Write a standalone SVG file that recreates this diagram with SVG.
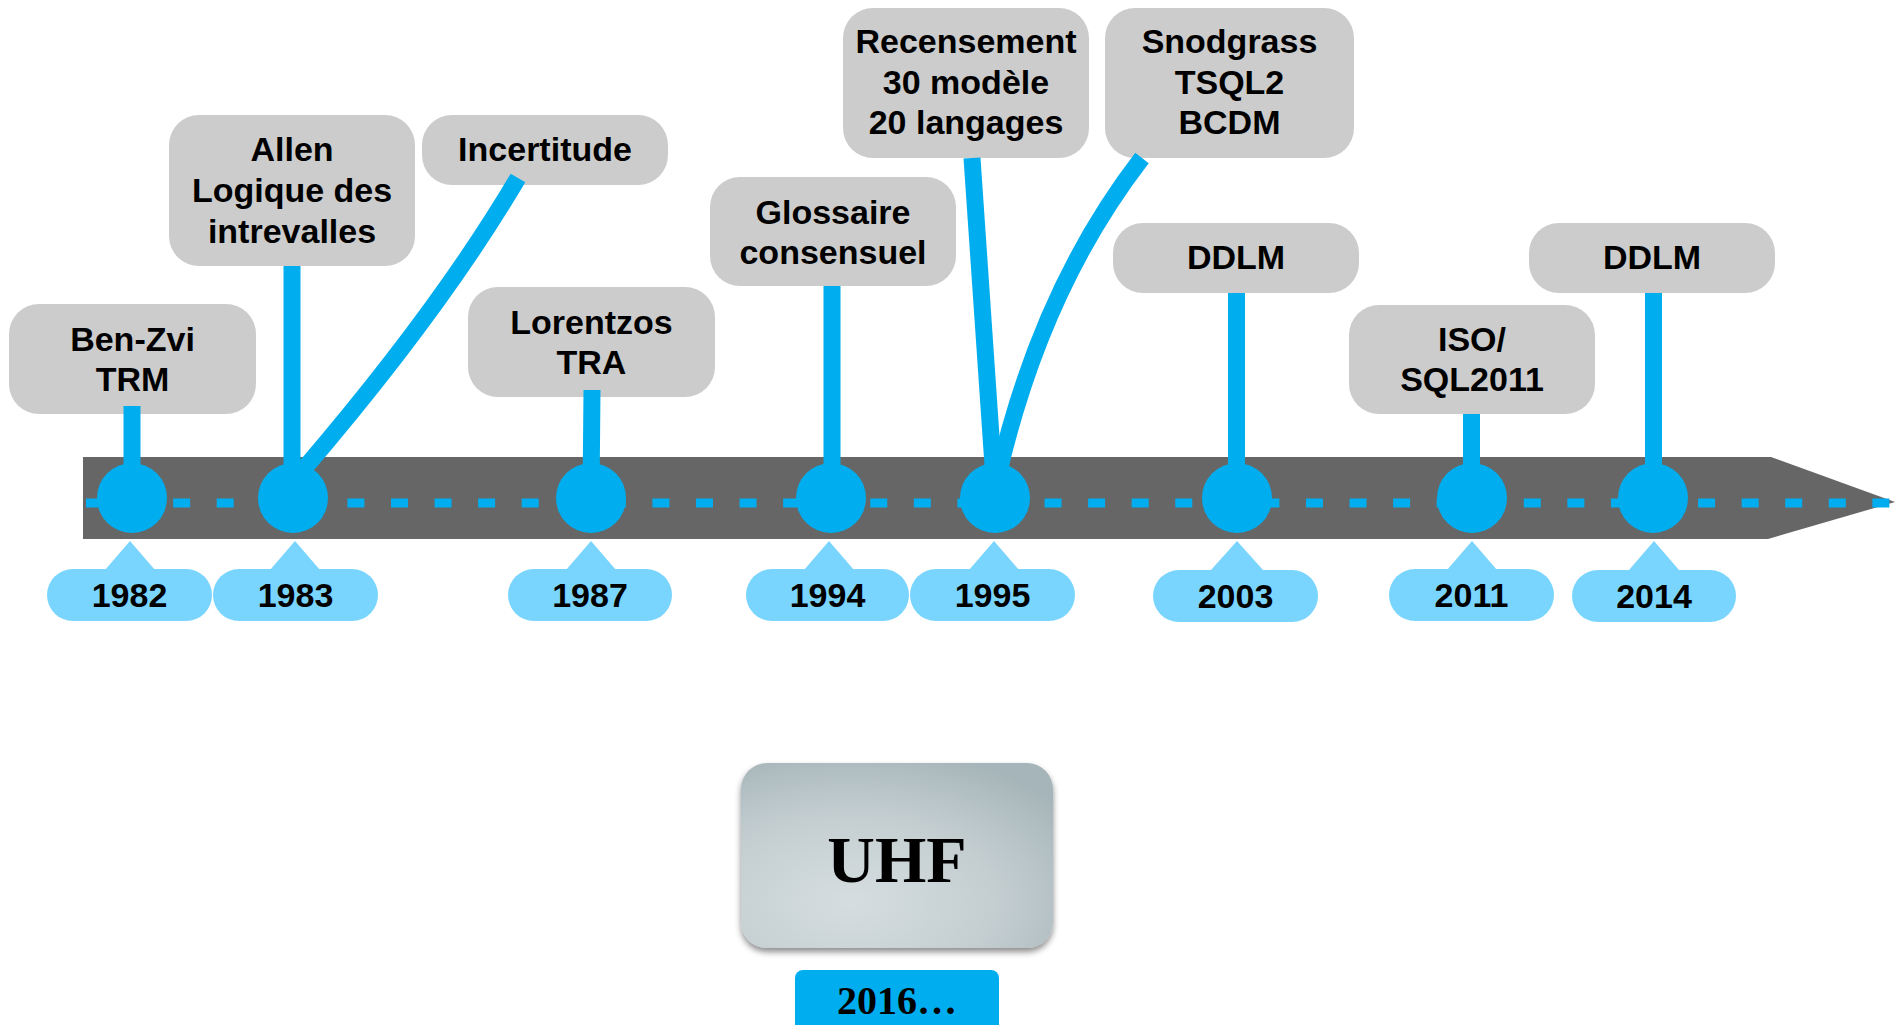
<svg xmlns="http://www.w3.org/2000/svg" width="1896" height="1025" viewBox="0 0 1896 1025">
<defs>
<style>
.box{fill:#CCCCCC}
.lbl{font-family:"Liberation Sans",Arial,Helvetica,sans-serif;font-weight:bold;font-size:34px;fill:#000;text-anchor:middle}
.yr{fill:#79D5FE}
.dot{fill:#00AEEF}
.stem{stroke:#00AEEF;stroke-width:17;fill:none;stroke-linecap:butt}
.serif{font-family:"Liberation Serif","Times New Roman",serif;font-weight:bold;fill:#000;text-anchor:middle}
</style>
<radialGradient id="uhfg" cx="0.35" cy="0.75" r="0.85">
<stop offset="0" stop-color="#D5DDE0"/>
<stop offset="0.55" stop-color="#C4CED1"/>
<stop offset="1" stop-color="#A6B5B9"/>
</radialGradient>
<filter id="sh" x="-10%" y="-10%" width="120%" height="130%">
<feDropShadow dx="0" dy="4" stdDeviation="3" flood-color="#000" flood-opacity="0.45"/>
</filter>
</defs>
<rect width="1896" height="1025" fill="#FFFFFF"/>

<g id="timeline">
<polygon points="83,457 1771,457 1895,502 1768,539 83,539" fill="#666666"/>
<line x1="86" y1="503" x2="1892" y2="503" stroke="#00AEEF" stroke-width="9" stroke-dasharray="17 26.57"/>
</g>

<g id="node-benzvi">
<rect class="box" x="9" y="304" width="247" height="110" rx="30"/>
<text class="lbl" x="132.5" y="351">Ben-Zvi</text>
<text class="lbl" x="132.5" y="391">TRM</text>
</g>
<g id="node-allen">
<rect class="box" x="169" y="115" width="246" height="151" rx="30"/>
<text class="lbl" x="292" y="161">Allen</text>
<text class="lbl" x="292" y="202">Logique des</text>
<text class="lbl" x="292" y="243">intrevalles</text>
</g>
<g id="node-incertitude">
<rect class="box" x="422" y="115" width="246" height="70" rx="30"/>
<text class="lbl" x="545" y="161">Incertitude</text>
</g>
<g id="node-lorentzos">
<rect class="box" x="468" y="287" width="247" height="110" rx="30"/>
<text class="lbl" x="591.5" y="334">Lorentzos</text>
<text class="lbl" x="591.5" y="374">TRA</text>
</g>
<g id="node-glossaire">
<rect class="box" x="710" y="177" width="246" height="109" rx="30"/>
<text class="lbl" x="833" y="224">Glossaire</text>
<text class="lbl" x="833" y="264">consensuel</text>
</g>
<g id="node-recensement">
<rect class="box" x="843" y="8" width="246" height="150" rx="30"/>
<text class="lbl" x="966" y="53">Recensement</text>
<text class="lbl" x="966" y="94">30 modèle</text>
<text class="lbl" x="966" y="134">20 langages</text>
</g>
<g id="node-snodgrass">
<rect class="box" x="1105" y="8" width="249" height="150" rx="30"/>
<text class="lbl" x="1229.5" y="53">Snodgrass</text>
<text class="lbl" x="1229.5" y="94">TSQL2</text>
<text class="lbl" x="1229.5" y="134">BCDM</text>
</g>
<g id="node-ddlm2003">
<rect class="box" x="1113" y="223" width="246" height="70" rx="30"/>
<text class="lbl" x="1236" y="269">DDLM</text>
</g>
<g id="node-iso">
<rect class="box" x="1349" y="305" width="246" height="109" rx="30"/>
<text class="lbl" x="1472" y="351">ISO/</text>
<text class="lbl" x="1472" y="391">SQL2011</text>
</g>
<g id="node-ddlm2014">
<rect class="box" x="1529" y="223" width="246" height="70" rx="30"/>
<text class="lbl" x="1652" y="269">DDLM</text>
</g>

<g id="connectors">
<line class="stem" x1="132" y1="406" x2="132" y2="497"/>
<line class="stem" x1="292" y1="266" x2="292" y2="497"/>
<path class="stem" d="M518,178 Q440,310 303,470"/>
<line class="stem" x1="592" y1="390" x2="591" y2="497"/>
<line class="stem" x1="832" y1="286" x2="832" y2="497"/>
<line class="stem" x1="972" y1="158" x2="994" y2="480"/>
<path class="stem" d="M1142,158 Q1040,290 997,480"/>
<line class="stem" x1="1236.5" y1="293" x2="1236.5" y2="497"/>
<line class="stem" x1="1471.5" y1="414" x2="1471.5" y2="497"/>
<line class="stem" x1="1653.5" y1="293" x2="1653.5" y2="497"/>
</g>

<g id="year-1982">
<circle class="dot" cx="132" cy="498" r="35"/>
<polygon class="yr" points="130,541 105,570 155,570"/>
<rect class="yr" x="47" y="569" width="165" height="52" rx="26"/>
<text class="lbl" x="129.5" y="607">1982</text>
</g>
<g id="year-1983">
<circle class="dot" cx="293" cy="498" r="35"/>
<polygon class="yr" points="295,541 270,570 320,570"/>
<rect class="yr" x="213" y="569" width="165" height="52" rx="26"/>
<text class="lbl" x="295.5" y="607">1983</text>
</g>
<g id="year-1987">
<circle class="dot" cx="591" cy="498" r="35"/>
<polygon class="yr" points="591,541 566,570 616,570"/>
<rect class="yr" x="508" y="569" width="164" height="52" rx="26"/>
<text class="lbl" x="590" y="607">1987</text>
</g>
<g id="year-1994">
<circle class="dot" cx="831" cy="498" r="35"/>
<polygon class="yr" points="829,541 804,570 854,570"/>
<rect class="yr" x="746" y="569" width="163" height="52" rx="26"/>
<text class="lbl" x="827.5" y="607">1994</text>
</g>
<g id="year-1995">
<circle class="dot" cx="995" cy="498" r="35"/>
<polygon class="yr" points="994,541 969,570 1019,570"/>
<rect class="yr" x="910" y="569" width="165" height="52" rx="26"/>
<text class="lbl" x="992.5" y="607">1995</text>
</g>
<g id="year-2003">
<circle class="dot" cx="1237" cy="498" r="35"/>
<polygon class="yr" points="1237,541 1211,570 1263,570"/>
<rect class="yr" x="1153" y="570" width="165" height="52" rx="26"/>
<text class="lbl" x="1235.5" y="608">2003</text>
</g>
<g id="year-2011">
<circle class="dot" cx="1472" cy="498" r="35"/>
<polygon class="yr" points="1472,541 1447,570 1497,570"/>
<rect class="yr" x="1389" y="569" width="165" height="52" rx="26"/>
<text class="lbl" x="1471.5" y="607">2011</text>
</g>
<g id="year-2014">
<circle class="dot" cx="1653" cy="498" r="35"/>
<polygon class="yr" points="1654,541 1629,570 1679,570"/>
<rect class="yr" x="1572" y="570" width="164" height="52" rx="26"/>
<text class="lbl" x="1654" y="608">2014</text>
</g>

<g id="node-uhf">
<rect x="741" y="763" width="312" height="185" rx="26" fill="url(#uhfg)" filter="url(#sh)"/>
<text class="serif" x="897" y="882" font-size="66">UHF</text>
</g>
<g id="year-2016">
<rect x="795" y="970" width="204" height="70" rx="8" fill="#00AEEF"/>
<text class="serif" x="897" y="1014" font-size="40">2016…</text>
</g>
</svg>
